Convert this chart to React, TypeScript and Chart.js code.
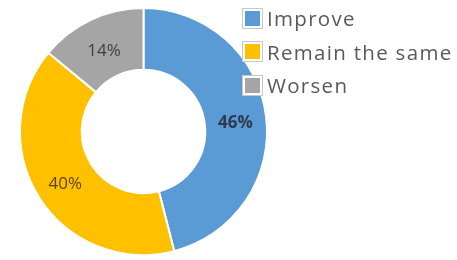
import React, { useEffect, useRef } from "react";
import { Chart, registerables } from "chart.js";

Chart.register(...registerables);

const categories = ["Improve", "Remain the same", "Worsen"];
const values = [46, 40, 14];
const pctLabels = ["46%", "40%", "14%"];
const colors = ["#5B9BD5", "#FFC000", "#A5A5A5"];
const labelColors = ["#2E3B4E", "#5A4714", "#404040"];
const labelWeights = ["bold", "normal", "normal"];

const labelPlugin = {
  id: "sliceLabels",
  afterDatasetsDraw(chart: any) {
    const ctx = chart.ctx;
    const meta = chart.getDatasetMeta(0);
    meta.data.forEach((arc: any, i: number) => {
      const p = arc.tooltipPosition();
      ctx.save();
      ctx.font = `${labelWeights[i]} 17px "Open Sans", sans-serif`;
      ctx.fillStyle = labelColors[i];
      ctx.textAlign = "center";
      ctx.textBaseline = "middle";
      ctx.fillText(pctLabels[i], p.x, p.y + 3);
      ctx.restore();
    });
  },
};

export default function App() {
  const ref = useRef<HTMLCanvasElement>(null);
  useEffect(() => {
    const chart = new Chart(ref.current!, {
      type: "doughnut",
      data: {
        labels: categories,
        datasets: [
          {
            data: values,
            backgroundColor: colors,
            borderColor: "#FFFFFF",
            borderWidth: 2,
          },
        ],
      },
      options: {
        animation: false,
        responsive: false,
        cutout: "50%",
        layout: { padding: { left: 19, right: 189, top: 7, bottom: 4 } },
        plugins: {
          legend: { display: false },
          tooltip: { enabled: false },
        },
      },
      plugins: [labelPlugin],
    });
    return () => chart.destroy();
  }, []);
  return (
    <div style={{ position: "fixed", left: 0, top: 0, width: 457, height: 260, background: "#fff" }}>
      <canvas ref={ref} width={457} height={260} style={{ position: "absolute", left: 0, top: 0 }} />
      {categories.map((c, i) => (
        <div
          key={c}
          style={{
            position: "absolute",
            left: 242,
            top: 7 + i * 33.5,
            height: 22,
            display: "flex",
            alignItems: "center",
            fontFamily: '"Open Sans", sans-serif',
            fontSize: 20.5,
            letterSpacing: 1.3,
            color: "#595959",
            whiteSpace: "nowrap",
          }}
        >
          <span
            style={{
              display: "inline-block",
              width: 15,
              height: 15,
              background: colors[i],
              border: "2px solid #fff",
              outline: "1px solid #C8C8C8",
              marginRight: 5,
              marginLeft: 1,
            }}
          />
          <span>{c}</span>
        </div>
      ))}
    </div>
  );
}
